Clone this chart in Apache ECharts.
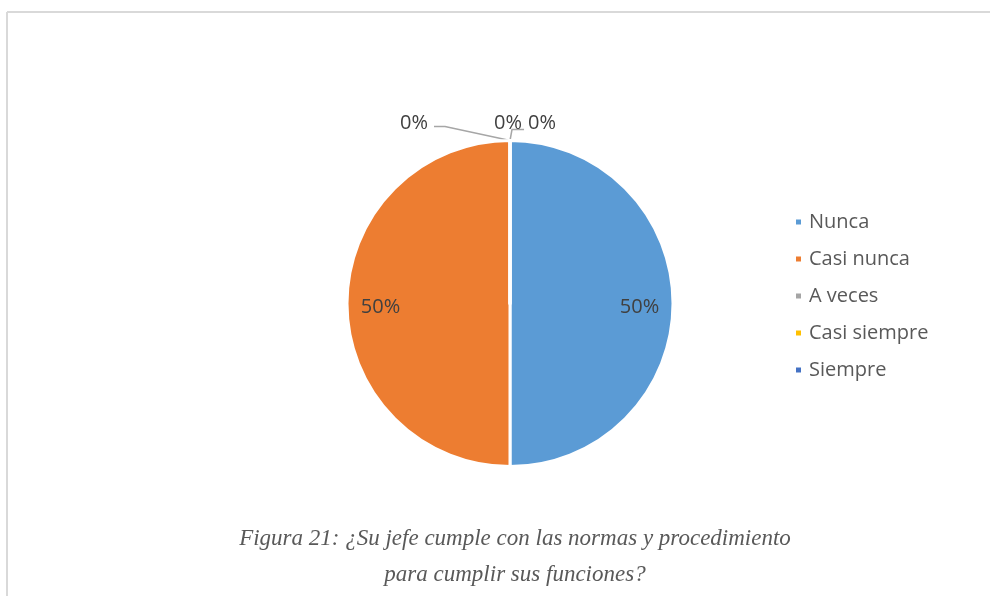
<!DOCTYPE html>
<html><head><meta charset="utf-8">
<script src="https://cdn.jsdelivr.net/npm/echarts@6/dist/echarts.min.js"></script>
<style>html,body{margin:0;padding:0;background:#fff}#c{width:990px;height:596px}</style>
</head><body><div id="c"></div>
<script>
const categories = ['Nunca', 'Casi nunca', 'A veces', 'Casi siempre', 'Siempre'];
const values = [50, 50, 0, 0, 0];
const colors = ['#5B9BD5', '#ED7D31', '#A5A5A5', '#FFC000', '#4472C4'];
const titleText = 'Figura 21: ¿Su jefe cumple con las normas y procedimiento\npara cumplir sus funciones?';

const chart = echarts.init(document.getElementById('c'));
const total = values.reduce((a, b) => a + b, 0);
const pct = v => Math.round(v / total * 100) + '%';
// relative label shifts for the zero-size slices (placement only)
const zeroShift = {2: [-67, -7], 3: [27, -7], 4: [61, -7]};

chart.setOption({
  animation: false,
  title: {
    text: titleText, left: 510, top: 516, textAlign: 'center',
    textStyle: {fontFamily: 'Liberation Serif', fontStyle: 'italic', fontWeight: 'normal', fontSize: 23, color: '#595959', lineHeight: 36}
  },
  legend: {
    orient: 'vertical', left: 789, top: 207, itemWidth: 7, itemHeight: 7, itemGap: 17, icon: 'rect',
    data: categories,
    textStyle: {fontFamily: 'Open Sans', fontSize: 20, color: '#595959', padding: [0, 0, 0, 2]}
  },
  graphic: [
    {type: 'line', shape: {x1: 7, y1: 12, x2: 990, y2: 12}, style: {stroke: '#d9d9d9', lineWidth: 2}, silent: true},
    {type: 'line', shape: {x1: 7, y1: 12, x2: 7, y2: 596}, style: {stroke: '#d9d9d9', lineWidth: 2}, silent: true}
  ],
  series: [
    {
      type: 'pie', center: [510, 303.5], radius: 163, startAngle: 90, clockwise: true,
      avoidLabelOverlap: false,
      itemStyle: {borderColor: '#fff', borderWidth: 3},
      label: {show: true, position: 'outside', formatter: p => p.value === 0 ? pct(p.value) : '',
        fontFamily: 'Open Sans', fontSize: 20, color: '#404040'},
      labelLine: {show: true, length: 10, length2: 10, lineStyle: {color: '#a6a6a6', width: 1.5}},
      labelLayout: p => {
        const s = zeroShift[p.dataIndex];
        if (!s) return {};
        const r = p.labelRect;
        const nx = r.x + s[0], cy = r.y + s[1] + r.height / 2;
        const p0 = p.labelLinePoints ? p.labelLinePoints[0] : [510, 141];
        let pts;
        if (p.dataIndex === 2) {
          pts = [p0, [nx + r.width + 17, cy + 3], [nx + r.width + 6, cy + 3]];
        } else if (p.dataIndex === 4) {
          pts = [p0, [p0[0] + 2, cy + 6], [nx - 4, cy + 6]];
        } else {
          pts = [p0, p0, p0];
        }
        return {dx: s[0], dy: s[1], labelLinePoints: pts};
      },
      data: categories.map((n, i) => ({name: n, value: values[i], itemStyle: {color: colors[i]},
        labelLine: {show: values[i] === 0}}))
    },
    {
      type: 'pie', center: [510, 303.5], radius: [90, 163], startAngle: 90, clockwise: true,
      silent: true, legendHoverLink: false,
      itemStyle: {color: 'transparent', borderWidth: 0},
      label: {show: true, position: 'inside', formatter: p => p.value > 0 ? pct(p.value) : '',
        fontFamily: 'Open Sans', fontSize: 20, color: '#404040'},
      labelLine: {show: false},
      labelLayout: () => ({dy: 4}),
      data: categories.map((n, i) => ({name: n, value: values[i], itemStyle: {color: 'transparent'}}))
    }
  ]
});
</script></body></html>
